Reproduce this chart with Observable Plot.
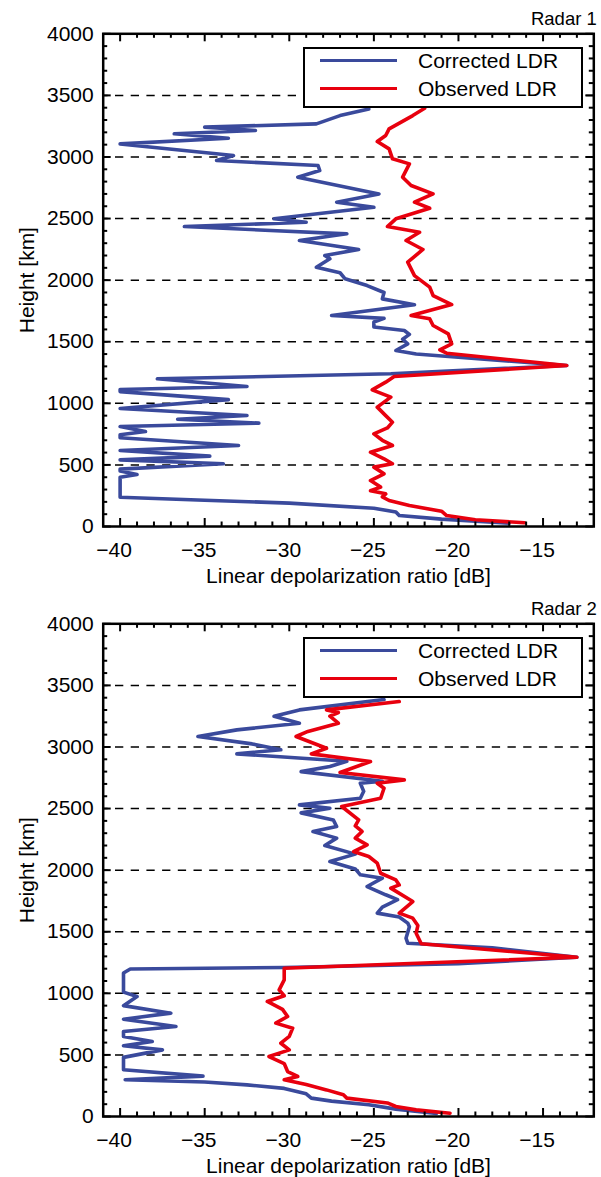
<!DOCTYPE html>
<html>
<head>
<meta charset="utf-8">
<script src="https://cdn.jsdelivr.net/npm/d3@7"></script>
<script src="https://cdn.jsdelivr.net/npm/@observablehq/plot@0.6"></script>
<style>
  html, body { margin: 0; padding: 0; background: #fff; }
  body { font-family: "Liberation Sans", Arial, Helvetica, sans-serif; }
  .panel { position: relative; width: 601px; height: 590px; }
  .legend { position: absolute; left: 303px; top: 47px; width: 280px; height: 61px;
            box-sizing: border-box; border: 2.5px solid #000; background: #fff; }
  .legend .ln { position: absolute; left: 15px; width: 77px; height: 3.5px; }
  .legend .tx { position: absolute; left: 113px; font-size: 21px; line-height: 24px; color: #000; }
</style>
</head>
<body>
<div id="chart"></div>
<script>
// ---------------- data ----------------
const panelTitles = ["Radar 1", "Radar 2"];
const seriesNames = ["Corrected LDR", "Observed LDR"];
const seriesColors = ["#3a4a9c", "#e8000e"];
const xTicks = [-40, -35, -30, -25, -20, -15];
const yTicks = [0, 500, 1000, 1500, 2000, 2500, 3000, 3500, 4000];
const yGrid = [500, 1000, 1500, 2000, 2500, 3000, 3500];
const xLabel = "Linear depolarization ratio [dB]";
const yLabel = "Height [km]";

// [LDR dB, height] pairs, bottom to top
const radar1Corrected = [
  [-17.0,27],[-21.0,60],[-23.5,89],[-23.7,118],[-25.0,148],[-30.0,190],[-35.0,213],[-40.0,238],
  [-40.0,400],[-39.0,422],[-40.0,450],[-40.0,466],[-33.9,509],[-40.0,541],[-34.7,571],[-40.0,617],
  [-33.0,658],[-40.0,720],[-40.0,745],[-38.5,771],[-40.0,812],[-31.8,839],[-36.6,871],[-32.5,901],
  [-40.0,958],[-33.6,1030],[-40.0,1095],[-40.0,1112],[-32.5,1137],[-37.8,1199],[-24.0,1240],
  [-13.6,1307],[-22.5,1400],[-23.7,1429],[-23.0,1483],[-23.3,1520],[-22.9,1560],[-23.2,1591],
  [-25.0,1620],[-25.0,1660],[-24.4,1690],[-27.5,1713],[-22.6,1800],[-24.5,1848],[-24.4,1900],
  [-25.4,1956],[-26.7,2011],[-27.0,2060],[-28.4,2105],[-27.6,2173],[-27.9,2200],[-25.9,2249],
  [-29.4,2322],[-26.6,2376],[-36.2,2435],[-29.0,2470],[-30.9,2498],[-25.0,2592],[-27.2,2633],
  [-24.7,2700],[-29.5,2836],[-28.2,2890],[-28.3,2931],[-34.3,2971],[-33.3,3012],[-40.0,3106],
  [-33.6,3152],[-36.8,3188],[-32.0,3215],[-35.0,3242],[-28.4,3269],[-27.0,3336],[-25.3,3390]
];
const radar1Observed = [
  [-16.1,30],[-19.0,55],[-20.7,89],[-21.0,124],[-22.9,170],[-24.1,211],[-24.5,240],[-24.3,265],
  [-25.2,290],[-24.6,320],[-25.2,373],[-24.4,428],[-25.0,482],[-23.9,509],[-24.4,550],[-25.2,603],
  [-23.9,658],[-24.5,700],[-25.0,752],[-24.2,800],[-23.9,847],[-24.3,900],[-24.8,969],[-24.0,1050],
  [-25.1,1109],[-24.3,1172],[-23.8,1218],[-13.6,1307],[-20.7,1407],[-21.1,1434],[-20.4,1483],
  [-20.6,1564],[-21.5,1632],[-21.7,1686],[-22.8,1713],[-20.4,1802],[-21.5,1875],[-21.7,1943],
  [-22.6,2037],[-23.0,2146],[-22.1,2249],[-23.1,2322],[-22.3,2389],[-24.2,2435],[-23.7,2498],
  [-21.7,2584],[-22.6,2633],[-21.5,2700],[-22.8,2768],[-23.3,2836],[-22.9,2944],[-23.9,2985],
  [-24.1,3066],[-24.8,3125],[-24.3,3174],[-24.1,3228],[-22.7,3336],[-22.0,3395]
];
const radar2Corrected = [
  [-21.3,25],[-23.7,60],[-25.3,95],[-27.5,125],[-28.7,149],[-29.0,184],[-30.3,228],[-32.5,257],
  [-35.0,280],[-39.7,298],[-35.1,328],[-39.8,379],[-39.8,480],[-37.5,541],[-39.8,575],[-38.1,609],
  [-39.8,650],[-39.8,690],[-36.7,731],[-39.8,790],[-37.0,839],[-39.8,900],[-39.0,974],[-39.8,1010],
  [-39.8,1165],[-39.4,1198],[-30.3,1210],[-20.0,1240],[-13.0,1293],[-18.0,1370],[-23.0,1407],
  [-23.1,1448],[-22.9,1540],[-23.0,1570],[-23.5,1620],[-24.8,1651],[-24.5,1700],[-23.6,1760],
  [-24.3,1800],[-25.4,1867],[-24.5,1935],[-25.8,1962],[-26.1,2010],[-27.6,2070],[-26.1,2130],
  [-27.9,2200],[-27.2,2260],[-28.6,2314],[-27.2,2354],[-27.4,2408],[-29.3,2465],[-27.6,2503],
  [-29.4,2530],[-25.8,2584],[-25.6,2640],[-25.8,2706],[-24.5,2722],[-29.3,2800],[-27.6,2841],
  [-26.6,2884],[-33.1,2944],[-30.5,2977],[-32.2,3025],[-35.4,3085],[-33.1,3139],[-29.4,3193],
  [-30.9,3250],[-29.4,3301],[-24.4,3385]
];
const radar2Observed = [
  [-20.5,27],[-22.5,54],[-23.7,81],[-24.2,110],[-26.6,149],[-26.8,176],[-27.8,216],[-29.0,260],
  [-30.3,298],[-29.5,325],[-30.1,365],[-30.3,430],[-31.2,487],[-30.0,541],[-30.5,595],[-30.0,650],
  [-29.8,717],[-30.8,758],[-30.1,812],[-30.4,870],[-31.3,934],[-30.3,980],[-30.6,1028],[-30.3,1109],
  [-30.3,1204],[-13.0,1293],[-22.2,1402],[-22.5,1488],[-22.4,1550],[-22.7,1610],[-23.5,1651],
  [-22.7,1745],[-24.0,1854],[-23.5,1880],[-23.7,1921],[-24.6,1975],[-24.8,2057],[-25.3,2111],
  [-26.2,2151],[-25.4,2205],[-26.1,2260],[-25.7,2314],[-26.1,2360],[-25.9,2408],[-26.9,2517],
  [-26.0,2544],[-24.6,2584],[-24.4,2665],[-24.8,2706],[-23.2,2733],[-27.0,2793],[-25.2,2882],
  [-28.7,2944],[-27.8,2990],[-29.6,3085],[-28.9,3126],[-27.1,3193],[-27.6,3250],[-27.1,3280],
  [-27.8,3301],[-23.5,3369]
];
const panels = [
  {title: panelTitles[0], series: [radar1Corrected, radar1Observed]},
  {title: panelTitles[1], series: [radar2Corrected, radar2Observed]}
];

// ---------------- layout ----------------
const W = 601, H = 590;
const mL = 102.7, mR = 7.7, mT = 33.3, mB = 64;
const plotH = H - mT - mB, plotW = W - mL - mR;
const majorLen = 8, minorLen = 4.5;
const xMinor = d3.range(-40, -12).filter(d => !xTicks.includes(d));
const yMinor = d3.range(100, 4000, 100).filter(d => !yTicks.includes(d));
const font = '"Liberation Sans", Arial, Helvetica, sans-serif';

const root = document.getElementById("chart");
for (const p of panels) {
  const div = document.createElement("div");
  div.className = "panel";
  const tickStyle = {stroke: "black", strokeWidth: 2};
  const svg = Plot.plot({
    width: W, height: H,
    marginLeft: mL, marginRight: mR, marginTop: mT, marginBottom: mB,
    x: {domain: [-41, -12]},
    y: {domain: [0, 4000]},
    style: {fontFamily: font, fontSize: "21px", color: "black", background: "white"},
    marks: [
      Plot.ruleY(yGrid, {y: d => d, stroke: "black", strokeWidth: 1.5, strokeDasharray: "8.3,7.4", strokeDashoffset: 3.4}),
      ...p.series.map((s, i) => Plot.line(s, {x: d => d[0], y: d => d[1], stroke: seriesColors[i], strokeWidth: 3.6, strokeLinejoin: "round"})),
      // inward ticks, all four sides
      Plot.tickX(xTicks, {x: d => d, insetTop: plotH - majorLen, ...tickStyle}),
      Plot.tickX(xTicks, {x: d => d, insetBottom: plotH - majorLen, ...tickStyle}),
      Plot.tickX(xMinor, {x: d => d, insetTop: plotH - minorLen, ...tickStyle}),
      Plot.tickX(xMinor, {x: d => d, insetBottom: plotH - minorLen, ...tickStyle}),
      Plot.tickY(yTicks, {y: d => d, insetRight: plotW - majorLen, ...tickStyle}),
      Plot.tickY(yTicks, {y: d => d, insetLeft: plotW - majorLen, ...tickStyle}),
      Plot.tickY(yMinor, {y: d => d, insetRight: plotW - minorLen, ...tickStyle}),
      Plot.tickY(yMinor, {y: d => d, insetLeft: plotW - minorLen, ...tickStyle}),
      Plot.frame({stroke: "black", strokeWidth: 2.5}),
      Plot.axisX({anchor: "bottom", ticks: xTicks, tickSize: 0, tickPadding: 16, dx: -6, label: null, fontSize: 21}),
      Plot.axisY({anchor: "left", ticks: yTicks, tickSize: 0, tickPadding: 9.5, label: null, fontSize: 21, tickFormat: d => String(d)}),
      Plot.text([xLabel], {text: d => d, frameAnchor: "bottom", dy: 56, lineAnchor: "bottom", fontSize: 21}),
      Plot.text([yLabel], {text: d => d, frameAnchor: "left", textAnchor: "middle", rotate: -90, dx: -69.7, lineAnchor: "bottom", fontSize: 21}),
      Plot.text([p.title], {text: d => d, frameAnchor: "top-right", textAnchor: "end", dx: 3, dy: -9, lineAnchor: "bottom", fontSize: 18.5})
    ]
  });
  div.appendChild(svg);
  const leg = document.createElement("div");
  leg.className = "legend";
  seriesNames.forEach((name, i) => {
    const ln = document.createElement("div");
    ln.className = "ln";
    ln.style.top = (14 - 2.5 - 1.75 + i * 28) + "px";
    ln.style.background = seriesColors[i];
    const tx = document.createElement("div");
    tx.className = "tx";
    tx.style.top = (14 - 2.5 - 12 + i * 28) + "px";
    tx.textContent = name;
    leg.appendChild(ln);
    leg.appendChild(tx);
  });
  div.appendChild(leg);
  root.appendChild(div);
}
</script>
</body>
</html>
